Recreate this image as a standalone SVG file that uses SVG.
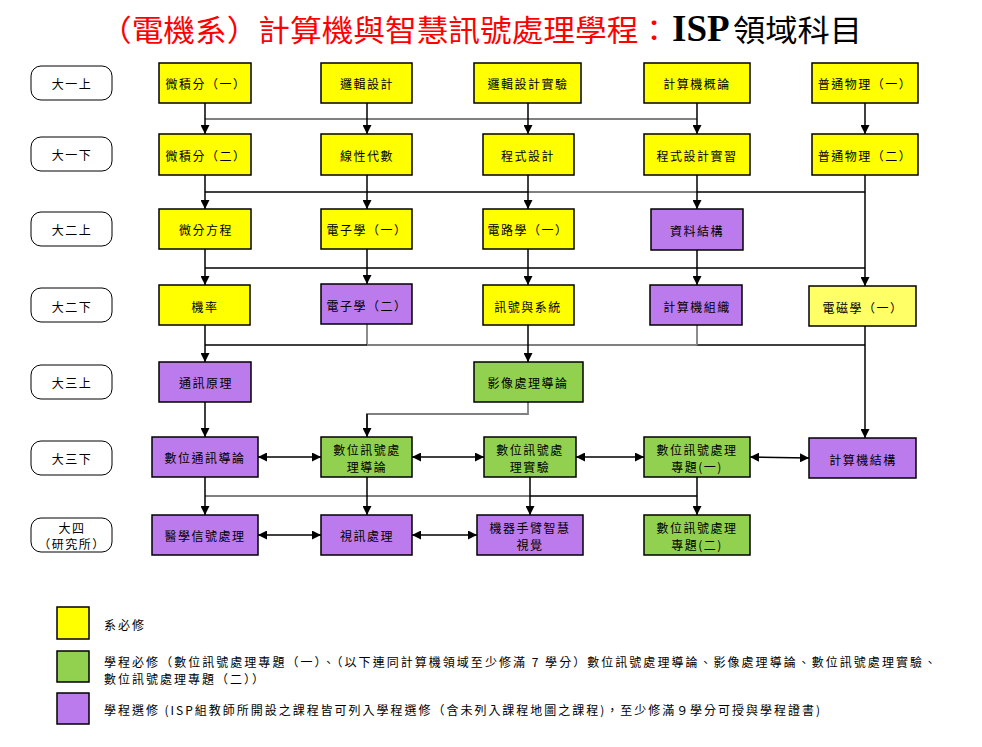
<svg xmlns="http://www.w3.org/2000/svg" width="982" height="747" viewBox="0 0 982 747">
<style>
  .t { font-family: "Noto Sans CJK TC", "Noto Sans", sans-serif; font-size: 12px; letter-spacing: 1.5px; fill: #000; text-anchor: middle; dominant-baseline: central; }
  .lt { font-family: "Noto Sans CJK TC", "Noto Sans", sans-serif; font-size: 12px; fill: #000; dominant-baseline: central; }
  .row { fill: #fff; stroke: #000; stroke-width: 1; }
  .box { stroke: #000; stroke-width: 1.5; }
  .y { fill: #ffff00; }
  .y2 { fill: #ffff66; }
  .g { fill: #92d050; }
  .p { fill: #bb7bec; }
  .c { fill: none; stroke: #000; stroke-width: 1.5; }
  .cg { fill: none; stroke: #808080; stroke-width: 1.8; }
  .a { marker-end: url(#ah); }
  .d { marker-end: url(#ah); marker-start: url(#ah); }
</style>
<defs>
  <marker id="ah" markerUnits="userSpaceOnUse" markerWidth="9" markerHeight="9" refX="9" refY="4.5" orient="auto-start-reverse" viewBox="0 0 9 9">
    <path d="M0,0 L9,4.5 L0,9 z" fill="#000"/>
  </marker>
</defs>
<rect width="982" height="747" fill="#fff"/>

<g id="title">
  <text x="100" y="41" font-family="'Noto Sans CJK TC', sans-serif" font-size="30" fill="#ff0000" textLength="570" lengthAdjust="spacingAndGlyphs">（電機系）計算機與智慧訊號處理學程：</text>
  <text x="672" y="41" font-family="'Liberation Serif', serif" font-size="37" font-weight="bold" fill="#000">ISP</text>
  <text x="733" y="41" font-family="'Noto Sans CJK TC', sans-serif" font-size="30" fill="#000" textLength="129" lengthAdjust="spacingAndGlyphs">領域科目</text>
</g>

<g id="rows">
  <g id="row1"><rect class="row" x="31" y="66" width="81" height="34" rx="10"/><text class="t" x="72" y="83">大一上</text></g>
  <g id="row2"><rect class="row" x="31" y="137" width="81" height="34" rx="10"/><text class="t" x="72" y="154">大一下</text></g>
  <g id="row3"><rect class="row" x="31" y="212" width="81" height="34" rx="10"/><text class="t" x="72" y="229">大二上</text></g>
  <g id="row4"><rect class="row" x="31" y="288" width="81" height="34" rx="10"/><text class="t" x="72" y="306">大二下</text></g>
  <g id="row5"><rect class="row" x="31" y="365" width="81" height="34" rx="10"/><text class="t" x="72" y="382">大三上</text></g>
  <g id="row6"><rect class="row" x="31" y="441" width="81" height="34" rx="10"/><text class="t" x="72" y="458">大三下</text></g>
  <g id="row7"><rect class="row" x="31" y="518" width="81" height="34" rx="10"/><text class="t" x="72" y="527">大四</text><text class="t" x="72" y="543">（研究所）</text></g>
</g>

<g id="connectors">
  <path class="cg" d="M205,119 H697"/>
  <path class="c a" d="M205,103 V134"/>
  <path class="c a" d="M367,103 V134"/>
  <path class="c a" d="M528,103 V134"/>
  <path class="c a" d="M697,103 V134"/>
  <path class="c a" d="M865,103 V134"/>

  <path class="c" d="M205,192 H528"/>
  <path class="cg" d="M528,192 H697"/>
  <path class="c" d="M697,192 H865"/>
  <path class="c a" d="M205,175 V209"/>
  <path class="c a" d="M367,175 V209"/>
  <path class="c a" d="M528,175 V209"/>
  <path class="c a" d="M697,175 V209"/>
  <path class="c a" d="M865,175 V286"/>

  <path class="c" d="M205,268 H865"/>
  <path class="c a" d="M205,249 V285"/>
  <path class="c a" d="M367,249 V284"/>
  <path class="c a" d="M528,249 V285"/>
  <path class="c a" d="M697,250 V285"/>

  <path class="c a" d="M205,325 V362"/>
  <path class="cg" d="M367,324 V345"/>
  <path class="c" d="M205,345 H367"/>
  <path class="cg" d="M367,345 H697"/>
  <path class="c" d="M697,345 H865"/>
  <path class="c a" d="M528,325 V362"/>
  <path class="cg" d="M697,325 V345"/>
  <path class="c a" d="M865,326 V438"/>

  <path class="c a" d="M205,402 V437"/>
  <path class="cg" d="M528,402 V414 H367 V430"/>
  <path class="c a" d="M367,414 V437"/>

  <path class="c d" d="M258,457 H321"/>
  <path class="c d" d="M412,457 H484"/>
  <path class="c d" d="M576,457 H644"/>
  <path class="c d" d="M750,457 L809,458"/>

  <path class="cg" d="M205,496 H530"/>
  <path class="c" d="M530,496 H697"/>
  <path class="c a" d="M205,477 V515"/>
  <path class="c a" d="M367,477 V515"/>
  <path class="c a" d="M530,477 V515"/>
  <path class="c a" d="M697,477 V515"/>

  <path class="c d" d="M258,535 H321"/>
  <path class="c d" d="M412,535 H477"/>
</g>

<g id="n-calc1"><rect class="box y" x="159" y="63" width="92" height="40"/><text class="t" x="206" y="83">微積分（一）</text></g>
<g id="n-logic"><rect class="box y" x="321" y="63" width="91" height="40"/><text class="t" x="367" y="83">邏輯設計</text></g>
<g id="n-logiclab"><rect class="box y" x="474" y="63" width="107" height="40"/><text class="t" x="528" y="83">邏輯設計實驗</text></g>
<g id="n-intro"><rect class="box y" x="644" y="63" width="106" height="40"/><text class="t" x="697" y="83">計算機概論</text></g>
<g id="n-phys1"><rect class="box y" x="812" y="63" width="106" height="40"/><text class="t" x="865" y="83">普通物理（一）</text></g>

<g id="n-calc2"><rect class="box y" x="159" y="134" width="92" height="41"/><text class="t" x="206" y="155">微積分（二）</text></g>
<g id="n-linalg"><rect class="box y" x="321" y="134" width="91" height="41"/><text class="t" x="367" y="155">線性代數</text></g>
<g id="n-prog"><rect class="box y" x="483" y="134" width="91" height="41"/><text class="t" x="528" y="155">程式設計</text></g>
<g id="n-proglab"><rect class="box y" x="644" y="134" width="106" height="41"/><text class="t" x="697" y="155">程式設計實習</text></g>
<g id="n-phys2"><rect class="box y" x="812" y="134" width="106" height="41"/><text class="t" x="865" y="155">普通物理（二）</text></g>

<g id="n-diffeq"><rect class="box y" x="159" y="209" width="92" height="40"/><text class="t" x="206" y="229">微分方程</text></g>
<g id="n-elec1"><rect class="box y" x="321" y="209" width="91" height="40"/><text class="t" x="367" y="229">電子學（一）</text></g>
<g id="n-circ1"><rect class="box y" x="483" y="209" width="91" height="40"/><text class="t" x="528" y="229">電路學（一）</text></g>
<g id="n-ds"><rect class="box p" x="651" y="209" width="92" height="41"/><text class="t" x="697" y="230">資料結構</text></g>

<g id="n-prob"><rect class="box y" x="159" y="285" width="91" height="40"/><text class="t" x="205" y="306">機率</text></g>
<g id="n-elec2"><rect class="box p" x="321" y="284" width="91" height="40"/><text class="t" x="367" y="305">電子學（二）</text></g>
<g id="n-sigsys"><rect class="box y" x="483" y="285" width="91" height="40"/><text class="t" x="528" y="306">訊號與系統</text></g>
<g id="n-co"><rect class="box p" x="650" y="285" width="92" height="40"/><text class="t" x="697" y="306">計算機組織</text></g>
<g id="n-em1"><rect class="box y2" x="809" y="286" width="107" height="40"/><text class="t" x="863" y="307">電磁學（一）</text></g>

<g id="n-comm"><rect class="box p" x="159" y="362" width="92" height="40"/><text class="t" x="206" y="382">通訊原理</text></g>
<g id="n-img"><rect class="box g" x="474" y="362" width="109" height="40"/><text class="t" x="528" y="382">影像處理導論</text></g>

<g id="n-dcomm"><rect class="box p" x="152" y="437" width="106" height="40"/><text class="t" x="205" y="457">數位通訊導論</text></g>
<g id="n-dsp"><rect class="box g" x="321" y="437" width="91" height="40"/><text class="t" x="367" y="449">數位訊號處</text><text class="t" x="367" y="466">理導論</text></g>
<g id="n-dsplab"><rect class="box g" x="484" y="437" width="92" height="40"/><text class="t" x="530" y="449">數位訊號處</text><text class="t" x="530" y="466">理實驗</text></g>
<g id="n-dspp1"><rect class="box g" x="644" y="437" width="106" height="40"/><text class="t" x="697" y="449">數位訊號處理</text><text class="t" x="697" y="466">專題(一)</text></g>
<g id="n-arch"><rect class="box p" x="809" y="438" width="107" height="40"/><text class="t" x="863" y="459">計算機結構</text></g>

<g id="n-med"><rect class="box p" x="152" y="515" width="106" height="40"/><text class="t" x="205" y="535">醫學信號處理</text></g>
<g id="n-video"><rect class="box p" x="321" y="515" width="91" height="40"/><text class="t" x="367" y="535">視訊處理</text></g>
<g id="n-robot"><rect class="box p" x="477" y="515" width="106" height="40"/><text class="t" x="530" y="527">機器手臂智慧</text><text class="t" x="530" y="544">視覺</text></g>
<g id="n-dspp2"><rect class="box g" x="644" y="515" width="106" height="40"/><text class="t" x="697" y="527">數位訊號處理</text><text class="t" x="697" y="544">專題(二)</text></g>

<g id="legend">
  <rect class="box y" x="57" y="607" width="32" height="32"/>
  <text class="lt" x="104" y="624" textLength="40" lengthAdjust="spacing">系必修</text>
  <rect class="box g" x="57" y="651" width="32" height="31"/>
  <text class="lt" x="104" y="661" textLength="832" lengthAdjust="spacing">學程必修（數位訊號處理專題（一）、（以下連同計算機領域至少修滿 7 學分）數位訊號處理導論、影像處理導論、數位訊號處理實驗、</text>
  <text class="lt" x="104" y="678" textLength="160" lengthAdjust="spacing">數位訊號處理專題（二））</text>
  <rect class="box p" x="57" y="693" width="32" height="31"/>
  <text class="lt" x="104" y="709" textLength="716" lengthAdjust="spacing">學程選修 (ISP組教師所開設之課程皆可列入學程選修（含未列入課程地圖之課程)，至少修滿９學分可授與學程證書)</text>
</g>
</svg>
